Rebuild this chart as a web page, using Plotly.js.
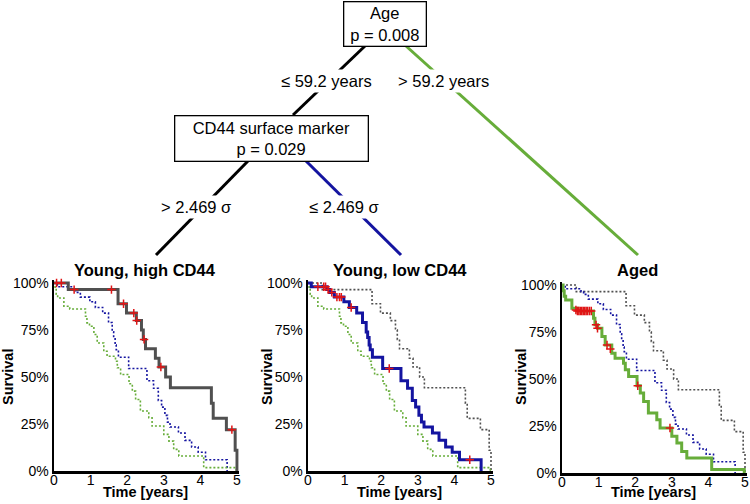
<!DOCTYPE html>
<html>
<head>
<meta charset="utf-8">
<script src="https://cdn.plot.ly/plotly-3.0.1.min.js"></script>
<style>html,body{margin:0;padding:0;background:#fff;}#chart{width:750px;height:504px;}</style>
</head>
<body>
<div id="chart"></div>
<script>
// ---------- Data ----------
// Young, high CD44 (grey)
const greyT = [0, 0.39, 1.75, 1.98, 2.25, 2.39, 2.44, 2.5, 2.77, 2.87, 3.05, 3.18, 4.3, 4.35, 4.71, 4.95, 5.0];
const greyS = [1, 0.965, 0.89, 0.84, 0.80, 0.75, 0.70, 0.65, 0.60, 0.553, 0.50, 0.443, 0.36, 0.28, 0.22, 0.11, 0];
const greyCensT = [0.07, 0.2, 0.55, 1.57, 1.9, 2.18, 2.26, 2.46, 2.92, 4.86];
const greyCensS = [1, 1, 0.965, 0.965, 0.89, 0.84, 0.80, 0.70, 0.553, 0.22];
// Young, low CD44 (blue)
const blueT = [0, 0.09, 0.52, 0.59, 0.72, 0.98, 1.13, 1.33, 1.49, 1.59, 1.63, 1.67, 1.70, 1.76, 2.04, 2.54, 2.72, 2.85, 2.94, 3.03, 3.10, 3.17, 3.40, 3.58, 3.76, 3.94, 4.14, 4.73];
const blueS = [1, 0.98, 0.965, 0.95, 0.925, 0.90, 0.87, 0.84, 0.79, 0.74, 0.71, 0.67, 0.645, 0.605, 0.545, 0.48, 0.44, 0.375, 0.34, 0.296, 0.26, 0.234, 0.202, 0.163, 0.128, 0.10, 0.06, 0];
const blueCensT = [0.27, 0.43, 0.48, 0.55, 0.65, 0.79, 0.86, 0.91, 1.18, 2.22, 4.42];
const blueCensS = [0.98, 0.98, 0.98, 0.965, 0.95, 0.925, 0.925, 0.925, 0.87, 0.545, 0.06];
// Aged (green)
const greenT = [0, 0.03, 0.06, 0.1, 0.27, 0.43, 0.86, 0.9, 0.97, 1.09, 1.18, 1.36, 1.45, 1.68, 1.73, 1.82, 2.05, 2.14, 2.23, 2.36, 2.59, 2.68, 3.0, 3.14, 3.27, 3.41, 4.09, 4.98];
const greenS = [1, 0.97, 0.94, 0.92, 0.876, 0.862, 0.823, 0.788, 0.77, 0.726, 0.681, 0.637, 0.61, 0.584, 0.549, 0.513, 0.464, 0.425, 0.38, 0.319, 0.283, 0.239, 0.195, 0.159, 0.115, 0.08, 0.018, 0];
const greenCensT = [-0.1, 0.38, 0.42, 0.46, 0.5, 0.54, 0.58, 0.62, 0.66, 0.7, 0.75, 0.8, 0.93, 0.97, 1.23, 1.32, 2.07, 2.95];
const greenCensS = [0.92, 0.867, 0.862, 0.862, 0.862, 0.862, 0.862, 0.862, 0.862, 0.862, 0.862, 0.862, 0.788, 0.77, 0.681, 0.66, 0.464, 0.239];

const panelTitles = ["Young, high CD44", "Young, low CD44", "Aged"];
const yTickVals = [0, 0.25, 0.5, 0.75, 1];
const yTickText = ["0%", "25%", "50%", "75%", "100%"];
const xTickVals = [0, 1, 2, 3, 4, 5];
const xTickText = ["0", "1", "2", "3", "4", "5"];
const treeRoot = {name: "Age", p: "p = 0.008"};
const treeNode = {name: "CD44 surface marker", p: "p = 0.029"};
const branchLabels = ["\u2264 59.2 years", "> 59.2 years", "> 2.469 \u03c3", "\u2264 2.469 \u03c3"];

// ---------- Styles ----------
const W = 750, H = 504;
const FONT = "Liberation Sans, Arial, Helvetica, sans-serif";
const colors = {grey: "#505050", blue: "#1414a0", green: "#67ad3a", red: "#e01515"};
const series = [
  {key: "grey", t: greyT, s: greyS, ct: greyCensT, cs: greyCensS},
  {key: "blue", t: blueT, s: blueS, ct: blueCensT, cs: blueCensS},
  {key: "green", t: greenT, s: greenS, ct: greenCensT, cs: greenCensS}
];
// pixel geometry of each panel: x at t=0, x at t=5, y at 0%, y at 100%
const panels = [
  {x0: 54, x5: 237, y0: 471, y1: 283},
  {x0: 308, x5: 491, y0: 471, y1: 283},
  {x0: 562, x5: 745, y0: 473, y1: 285}
];
const XR = [0, 5.05], YR = [0, 1.015];

const traces = [];
const layout = {
  width: W, height: H, margin: {l: 0, r: 0, t: 0, b: 0},
  paper_bgcolor: "#fff", plot_bgcolor: "rgba(0,0,0,0)",
  showlegend: false, font: {family: FONT, color: "#000"},
  annotations: [], shapes: []
};

panels.forEach((p, i) => {
  const n = i + 1;
  const xa = n === 1 ? "x" : "x" + n, ya = n === 1 ? "y" : "y" + n;
  const pxPerX = (p.x5 - p.x0) / 5, pxPerY = (p.y0 - p.y1);
  const dx0 = p.x0 / W, dx1 = (p.x0 + XR[1] * pxPerX) / W;
  const dy0 = 1 - p.y0 / H, dy1 = 1 - (p.y0 - YR[1] * pxPerY) / H;
  const axCommon = {showgrid: false, zeroline: false, showline: true, linecolor: "#000", linewidth: 2.5,
    ticks: "", tickfont: {size: 14, family: FONT, color: "#000"}, fixedrange: true};
  layout[n === 1 ? "xaxis" : "xaxis" + n] = Object.assign({}, axCommon, {domain: [dx0, dx1], range: XR,
    anchor: ya, tickvals: xTickVals, ticktext: xTickText, ticklabelstandoff: -5});
  layout[n === 1 ? "yaxis" : "yaxis" + n] = Object.assign({}, axCommon, {domain: [dy0, dy1], range: YR,
    anchor: xa, tickvals: yTickVals, ticktext: yTickText});
  // non-focal dotted curves first
  series.forEach((s, j) => {
    if (j === i) return;
    traces.push({x: s.t, y: s.s, xaxis: xa, yaxis: ya, type: "scatter", mode: "lines",
      line: {shape: "hv", color: colors[s.key], width: 1.6, dash: "2px,2px"}, hoverinfo: "skip"});
  });
  const f = series[i];
  traces.push({x: f.t, y: f.s, xaxis: xa, yaxis: ya, type: "scatter", mode: "lines",
    line: {shape: "hv", color: colors[f.key], width: 3}, hoverinfo: "skip"});
  traces.push({x: f.ct, y: f.cs, xaxis: xa, yaxis: ya, type: "scatter", mode: "markers", cliponaxis: false,
    marker: {symbol: "cross-thin", size: 6, line: {color: colors.red, width: 1.5}}, hoverinfo: "skip"});
  // panel title & axis titles
  const cx = (p.x0 + p.x5) / 2 / W;
  layout.annotations.push({xref: "paper", yref: "paper", x: [145, 400, 637][i] / W, y: 1 - 270 / H,
    text: "<b>" + panelTitles[i] + "</b>", showarrow: false, font: {size: 16.5, family: FONT, color: "#000"},
    xanchor: "center", yanchor: "middle"});
  layout.annotations.push({xref: "paper", yref: "paper", x: cx, y: 1 - 492 / H,
    text: "<b>Time [years]</b>", showarrow: false, font: {size: 14.5, family: FONT, color: "#000"},
    xanchor: "center", yanchor: "middle"});
  layout.annotations.push({xref: "paper", yref: "paper", x: (p.x0 - [46, 41, 41][i]) / W, y: 1 - 377 / H,
    text: "<b>Survival</b>", textangle: -90, showarrow: false, font: {size: 14.5, family: FONT, color: "#000"},
    xanchor: "center", yanchor: "middle"});
});

// ---------- Tree diagram ----------
const px = x => x / W, py = y => 1 - y / H;
function seg(x0, y0, x1, y1, color) {
  layout.shapes.push({type: "line", xref: "paper", yref: "paper", x0: px(x0), y0: py(y0), x1: px(x1), y1: py(y1),
    line: {color: color, width: 3}, layer: "below"});
}
seg(365, 46, 293, 115, "#000");
seg(406, 46, 638, 255, colors.green);
seg(248, 161, 156, 255, "#000");
seg(306, 161, 401, 255, colors.blue);

function box(cx, cy, w, h, lines) {
  layout.annotations.push({xref: "paper", yref: "paper", x: px(cx), y: py(cy), xanchor: "center", yanchor: "middle",
    text: lines.join("<br>"), showarrow: false, width: w, height: h, borderpad: 0,
    bordercolor: "#000", borderwidth: 1.3, bgcolor: "#fff", align: "center", valign: "middle",
    font: {size: 16.5, family: FONT, color: "#000"}});
}
box(384.5, 23.5, 81, 43, [treeRoot.name, treeRoot.p]);
box(271, 138, 192, 44, [treeNode.name, treeNode.p]);

function label(cx, cy, t) {
  layout.annotations.push({xref: "paper", yref: "paper", x: px(cx), y: py(cy), xanchor: "center", yanchor: "middle",
    text: t, showarrow: false, bgcolor: "#fff", borderpad: 2, font: {size: 16.5, family: FONT, color: "#000"}});
}
label(326, 81, branchLabels[0]);
label(443, 81, branchLabels[1]);
label(196, 207, branchLabels[2]);
label(344, 207, branchLabels[3]);

Plotly.newPlot("chart", traces, layout, {staticPlot: true, displayModeBar: false});
</script>
</body>
</html>
